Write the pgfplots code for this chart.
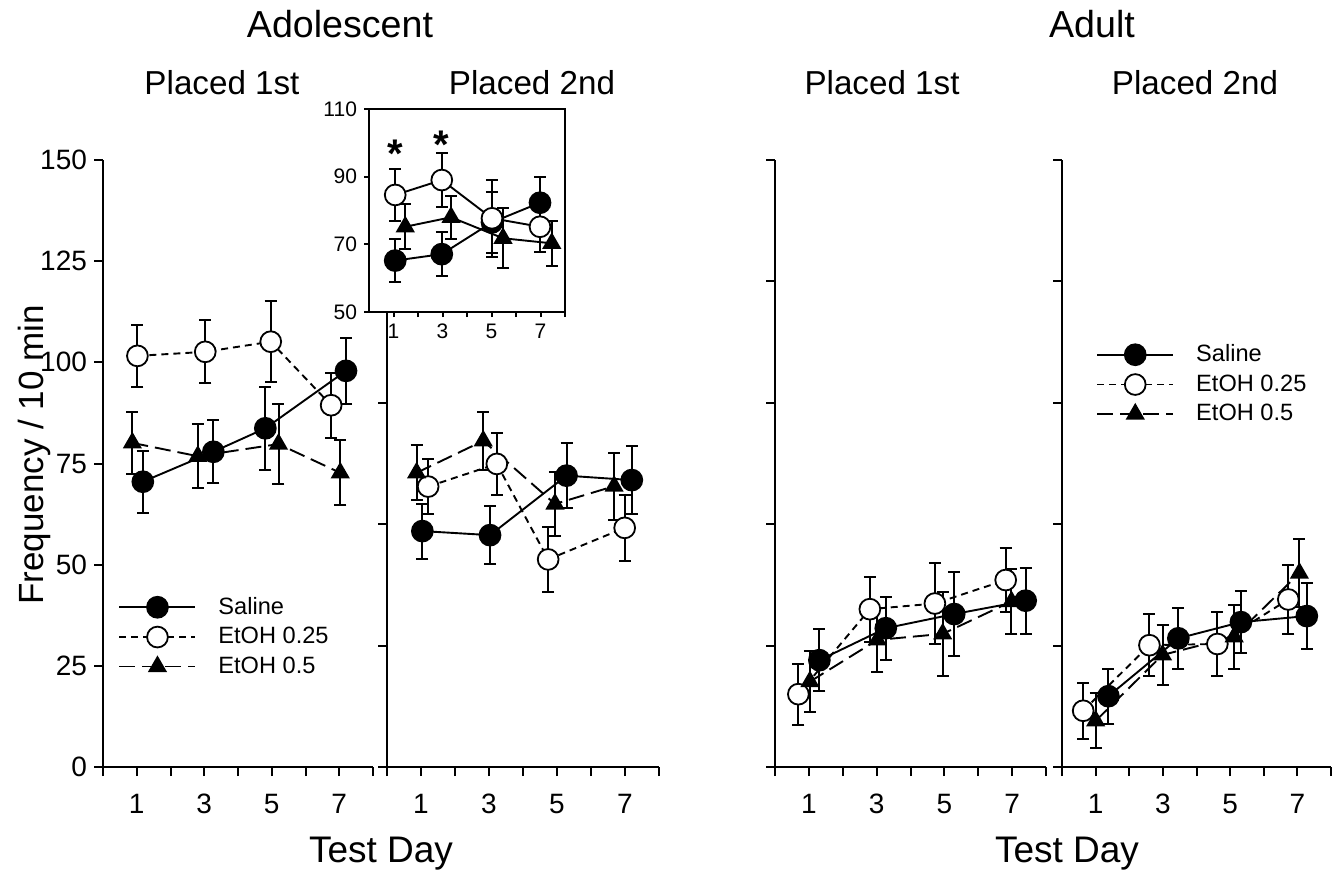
\documentclass[border=0pt]{standalone}
\usepackage{fontspec}
\setmainfont{Liberation Sans}
\usepackage{pgfplots}
\pgfplotsset{compat=1.18}

\pgfplotsset{
  panel/.style={
    scale only axis, height=303.5pt, anchor=south west,
    xmin=0, xmax=8, ymin=0, ymax=150,
    axis x line=bottom, axis y line=left,
    axis line style={-, line width=1pt},
    tick align=outside, major tick length=4.5pt,
    tick style={line width=1pt, black},
    xtick={0,...,8}, xticklabels={,1,,3,,5,,7,},
    ytick={0,30,...,150}, yticklabels={},
    tick label style={font=\fontsize{14}{16}\selectfont},
    xticklabel style={yshift=-5.5pt},
    /pgf/number format/assume math mode=true,
    clip=false,
  },
  sal/.style={black, solid, line width=0.95pt, mark=*, mark size=5.2pt,
    mark options={solid, fill=black}},
  e25/.style={black, dash pattern=on 3.5pt off 2.5pt, line width=0.95pt, mark=*, mark size=5.2pt,
    mark options={solid, fill=white, line width=0.9pt}},
  e5/.style={black, dash pattern=on 8pt off 3.5pt, line width=0.95pt, mark=triangle*, mark size=4.6pt,
    mark options={solid, fill=black}},
  eb/.style={error bars/.cd, y dir=both, y explicit,
    error bar style={solid, line width=1pt},
    error mark options={solid, line width=1pt, mark size=3pt, rotate=90}},
  leg/.style={
    legend image code/.code={\draw[mark repeat=2, mark phase=2] plot coordinates {(0pt,0pt) (19pt,0pt) (38pt,0pt)};},
    legend cell align=left,
    legend style={draw=none, fill=none, font=\fontsize{11.8}{13}\selectfont, row sep=1pt, inner sep=0pt, column sep=9pt},
  },
}

\begin{document}
\begin{tikzpicture}
\path (0pt,0pt) rectangle (671pt,437pt);

% Adolescent, placed 1st
\begin{axis}[panel, leg, at={(51.5pt,53.5pt)}, width=135pt,
  ytick={0,25,...,150}, yticklabels={0,25,50,75,100,125,150},
  legend style={at={(0.056,0.287)}, anchor=north west}]
\addplot[sal, eb] coordinates {(1.18,70.5) +- (0,7.7) (3.27,77.9) +- (0,7.8) (4.81,83.7) +- (0,10.3) (7.2,97.9) +- (0,8.1)};
\addplot[e25, eb] coordinates {(1.02,101.6) +- (0,7.6) (3.03,102.6) +- (0,7.8) (4.97,105.1) +- (0,10) (6.76,89.4) +- (0,8)};
\addplot[e5, eb] coordinates {(0.87,80.1) +- (0,7.6) (2.81,76.8) +- (0,7.9) (5.2,79.8) +- (0,9.9) (7.03,72.7) +- (0,8)};
\legend{Saline, EtOH 0.25, EtOH 0.5}
\end{axis}

% Adolescent, placed 2nd
\begin{axis}[panel, at={(193.5pt,53.5pt)}, width=136pt]
\addplot[sal, eb] coordinates {(1.04,58.3) +- (0,6.8) (3.03,57.3) +- (0,7.2) (5.28,72) +- (0,8) (7.2,70.9) +- (0,8.4)};
\addplot[e25, eb] coordinates {(1.21,69.3) +- (0,6.7) (3.23,74.9) +- (0,7.6) (4.74,51.3) +- (0,8.1) (6.99,59.1) +- (0,8.2)};
\addplot[e5, eb] coordinates {(0.87,72.7) +- (0,6.8) (2.83,80.6) +- (0,7.2) (4.94,65) +- (0,7.9) (6.68,69.4) +- (0,8.3)};
\end{axis}

% inset
\begin{axis}[scale only axis, anchor=south west, at={(184.5pt,281pt)}, width=98pt, height=101.5pt,
  xmin=0, xmax=8, ymin=50, ymax=110,
  axis line style={line width=1pt},
  axis background/.style={fill=white},
  xtick pos=bottom, ytick pos=left,
  tick align=outside, major tick length=2.5pt,
  tick style={line width=1pt, black},
  xtick={1,...,8}, xticklabels={1,,3,,5,,7,},
  ytick={50,70,90,110},
  tick label style={font=\fontsize{10.5}{12}\selectfont},
  /pgf/number format/assume math mode=true,
  clip=false]
\addplot[sal, eb] coordinates {(1.07,65.2) +- (0,6.4) (2.97,67.1) +- (0,6.4) (5.02,76.5) +- (0,9) (6.98,82.3) +- (0,7.5)};
\addplot[e25, solid, eb] coordinates {(1.07,84.6) +- (0,7.8) (2.97,89.0) +- (0,8) (5.02,77.7) +- (0,11.4) (6.98,75.2) +- (0,7.5)};
\addplot[e5, solid, eb] coordinates {(1.48,75.2) +- (0,6.7) (3.35,78) +- (0,6.3) (5.47,71.8) +- (0,8.8) (7.46,70.3) +- (0,6.6)};
\node[font=\bfseries\fontsize{20}{22}\selectfont] at (axis cs:1.07,96.8) {*};
\node[font=\bfseries\fontsize{20}{22}\selectfont] at (axis cs:2.97,99.3) {*};
\end{axis}

% Adult, placed 1st
\begin{axis}[panel, at={(387.5pt,53.5pt)}, width=135.5pt]
\addplot[sal, eb] coordinates {(1.31,26.4) +- (0,7.6) (3.27,34.3) +- (0,7.8) (5.29,37.8) +- (0,10.3) (7.40,41.1) +- (0,8.2)};
\addplot[e25, eb] coordinates {(0.69,18.0) +- (0,7.5) (2.80,39.0) +- (0,8) (4.72,40.4) +- (0,10.1) (6.81,46.2) +- (0,7.8)};
\addplot[e5, eb] coordinates {(1.03,21.1) +- (0,7.6) (3.02,31.4) +- (0,8) (4.95,32.9) +- (0,10.3) (6.98,40.9) +- (0,8)};
\end{axis}

% Adult, placed 2nd
\begin{axis}[panel, leg, at={(531pt,53.5pt)}, width=134.5pt,
  legend style={at={(0.126,0.703)}, anchor=north west}]
\addplot[sal, eb] coordinates {(1.38,17.5) +- (0,6.8) (3.46,31.8) +- (0,7.5) (5.32,35.8) +- (0,7.7) (7.28,37.3) +- (0,8.2)};
\addplot[e25, eb] coordinates {(0.63,13.9) +- (0,6.9) (2.60,30.1) +- (0,7.6) (4.62,30.4) +- (0,7.8) (6.73,41.4) +- (0,8.6)};
\addplot[e5, eb] coordinates {(1.0,11.4) +- (0,6.8) (2.99,27.7) +- (0,7.5) (5.12,32.2) +- (0,7.9) (7.06,47.9) +- (0,8.4)};
\legend{Saline, EtOH 0.25, EtOH 0.5}
\end{axis}

% titles and labels
\node[anchor=base, font=\fontsize{18.8}{20}\selectfont] at (170pt,418pt) {Adolescent};
\node[anchor=base, font=\fontsize{18.8}{20}\selectfont] at (546pt,418pt) {Adult};
\node[anchor=base, font=\fontsize{16.6}{18}\selectfont] at (111pt,389.5pt) {Placed 1st};
\node[anchor=base, font=\fontsize{16.6}{18}\selectfont] at (266pt,389.5pt) {Placed 2nd};
\node[anchor=base, font=\fontsize{16.6}{18}\selectfont] at (441pt,389.5pt) {Placed 1st};
\node[anchor=base, font=\fontsize{16.6}{18}\selectfont] at (597.5pt,389.5pt) {Placed 2nd};
\node[anchor=base, font=\fontsize{18.5}{20}\selectfont] at (190.5pt,6pt) {Test Day};
\node[anchor=base, font=\fontsize{18.5}{20}\selectfont] at (533.5pt,6pt) {Test Day};
\node[rotate=90, anchor=base, font=\fontsize{17.5}{20}\selectfont] at (21.5pt,209.5pt) {Frequency / 10 min};
\end{tikzpicture}
\end{document}
